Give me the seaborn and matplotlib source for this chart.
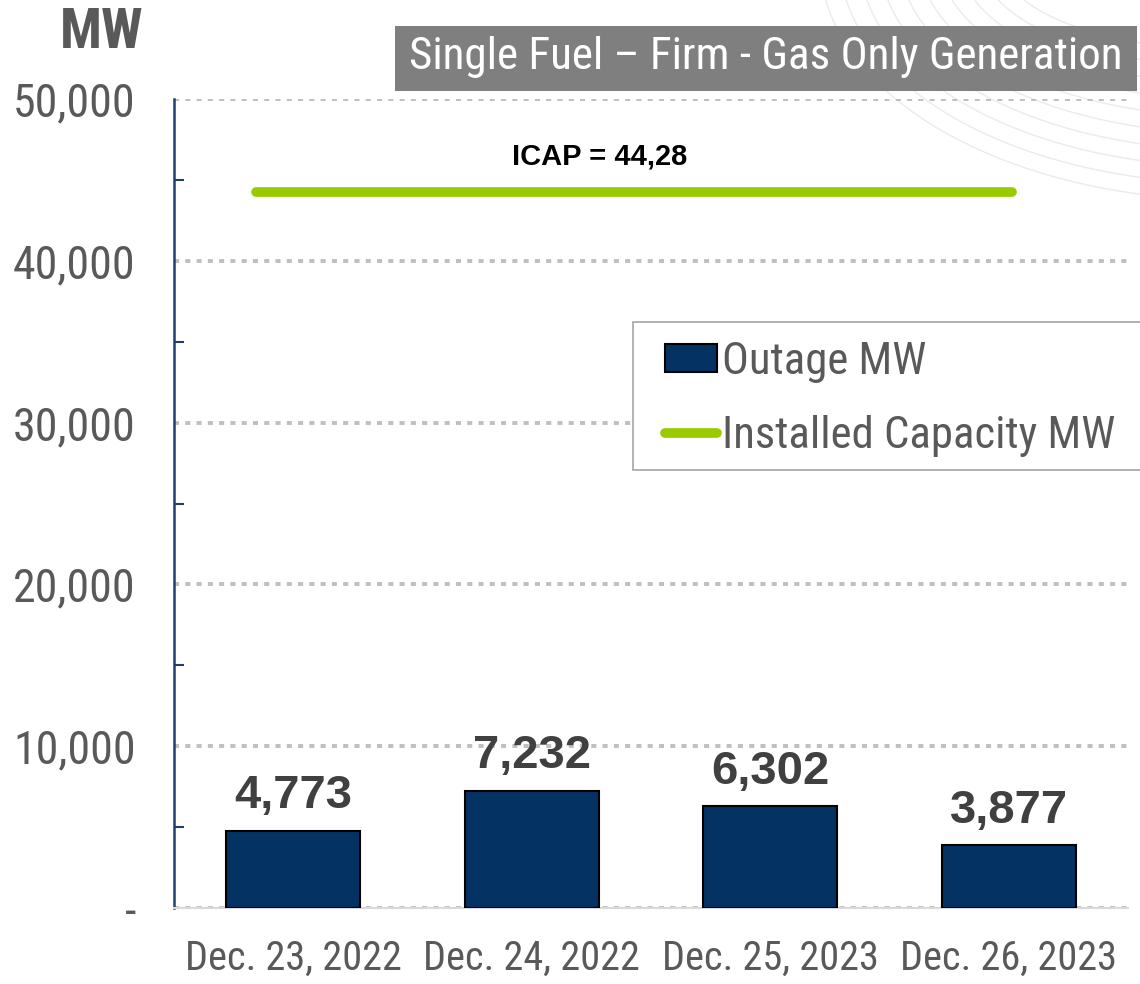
import numpy as np
import pandas as pd
import seaborn as sns
import matplotlib.pyplot as plt
from matplotlib import font_manager
from matplotlib.patches import Rectangle, Patch
from matplotlib.lines import Line2D
from matplotlib.ticker import FuncFormatter, MultipleLocator

# data
dates = ['Dec. 23, 2022', 'Dec. 24, 2022', 'Dec. 25, 2023', 'Dec. 26, 2023']
outage_mw = [4773, 7232, 6302, 3877]
icap_mw = 44280
icap_label = 'ICAP = 44,28'
title = 'Single Fuel \u2013 Firm - Gas Only Generation'

sns.set_style('white')

# the original uses a condensed face; shrink a regular one if none is around
installed = {f.name for f in font_manager.fontManager.ttflist}
narrow_font = next((f for f in ['Liberation Sans Narrow', 'Roboto Condensed', 'Arial Narrow']
                    if f in installed), None)
if narrow_font:
    base, k = narrow_font, 1.0
else:
    base, k = 'Liberation Sans', 0.82
plt.rcParams['font.family'] = [base, 'DejaVu Sans']

navy = '#033263'
green = '#99CC00'
txt_gray = '#595959'

df = pd.DataFrame({'date': dates, 'mw': outage_mw})

fig = plt.figure(figsize=(11.4, 9.84), dpi=100)
ax = fig.add_axes([174 / 1140, 1 - 908 / 984, (1128 - 174) / 1140, (908 - 99) / 984])

# faint decorative arcs top right (pixel space -> figure fraction)
t = np.linspace(np.pi * 0.5, np.pi * 1.0, 200)
for rx, ry in zip(np.linspace(230, 410, 10), np.linspace(90, 240, 10)):
    px = 1230 + rx * np.cos(t)
    py = -40 + ry * np.sin(t)
    fig.add_artist(Line2D(px / 1140, 1 - py / 984, transform=fig.transFigure,
                          color='#EBEBEB', lw=1.0, zorder=0))

ax.set_facecolor('none')
sns.barplot(data=df, x='date', y='mw', color=navy, saturation=1, edgecolor='black',
            linewidth=1.5, width=0.56, ax=ax, zorder=3)

ax.axhline(icap_mw, xmin=0.086, xmax=0.878, color=green, lw=7,
           solid_capstyle='round', zorder=4)
ax.text(0.4465, icap_mw + 1300, icap_label, transform=ax.get_yaxis_transform(),
        ha='center', va='bottom', fontsize=21, fontweight='bold',
        family='Liberation Sans', color='black')

for i, v in enumerate(outage_mw):
    ax.annotate(f'{v:,}', (i, v), xytext=(0, 9), textcoords='offset points',
                ha='center', va='bottom', fontsize=34, fontweight='bold',
                family='Liberation Sans', color='#404040', zorder=5)

ax.set_ylim(0, 50000)
ax.set_xlim(-0.5, len(dates) - 0.5)
ax.yaxis.set_major_locator(MultipleLocator(10000))
ax.yaxis.set_minor_locator(MultipleLocator(5000))
ax.yaxis.set_major_formatter(FuncFormatter(lambda v, p: '-' if v == 0 else f'{v:,.0f}'))
ax.yaxis.grid(True, color='#BFBFBF', lw=2.8, linestyle=(0, (1.3, 1.6)), zorder=0)
ax.xaxis.grid(False)
ax.set_axisbelow(True)

ax.tick_params(axis='y', which='major', direction='inout', length=17, width=1.5,
               color='#1F3F6E', pad=19, labelsize=33 * k, labelcolor=txt_gray)
ax.tick_params(axis='y', which='minor', direction='in', length=7, width=1.5,
               color='#1F3F6E', left=True)
ax.tick_params(axis='x', length=0, pad=22, labelsize=29 * k, labelcolor=txt_gray)
ax.set_xlabel('')
ax.set_ylabel('')

for s in ['top', 'right']:
    ax.spines[s].set_visible(False)
ax.spines['left'].set_color('#1F3F6E')
ax.spines['left'].set_linewidth(1.8)
ax.spines['bottom'].set_color('#D9D9D9')
ax.spines['bottom'].set_linewidth(1.5)

# units label and title box
fig.text(102 / 1140, 1 - 48 / 984, 'MW', ha='center', va='baseline', fontsize=40 * k,
         fontweight='bold', color=txt_gray)
fig.add_artist(Rectangle((395 / 1140, 1 - 91 / 984), (1137 - 395) / 1140, 65 / 984,
                         transform=fig.transFigure, facecolor='#7F7F7F', edgecolor='none'))
fig.text(766 / 1140, 1 - 57 / 984, title, ha='center', va='center', fontsize=32.5 * k,
         color='white')

# legend frame runs off the right edge in the original, so draw it on its own
fig.add_artist(Rectangle((633 / 1140, 1 - 470 / 984), 520 / 1140, 148 / 984,
                         transform=fig.transFigure, facecolor='white',
                         edgecolor='#A6A6A6', lw=1.2, zorder=5))
handles = [Patch(facecolor=navy, edgecolor='black', lw=1.5, label='Outage MW'),
           Line2D([], [], color=green, lw=7, solid_capstyle='round', label='Installed Capacity MW')]
leg = fig.legend(handles=handles, loc='upper left', bbox_to_anchor=(665 / 1140, 1 - 341 / 984),
                 fontsize=32.2 * k, frameon=False, handlelength=1.17, handleheight=0.6,
                 handletextpad=0.1, labelspacing=0.71, borderpad=0, borderaxespad=0)
leg.set_zorder(6)
for txt in leg.get_texts():
    txt.set_color(txt_gray)

fig.savefig('out.png', dpi=100)
